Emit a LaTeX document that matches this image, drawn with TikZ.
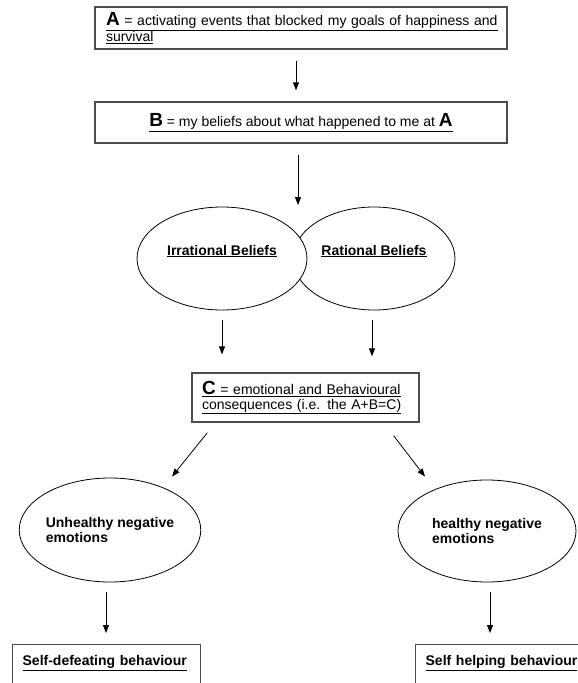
\documentclass[tikz,border=0pt]{standalone}
\usepackage{fontspec}
\setmainfont{Liberation Sans}
\usetikzlibrary{arrows.meta,shapes.geometric}
\newcommand{\bigletter}[1]{{\fontsize{19}{19}\selectfont\bfseries #1}}

\begin{document}
\begin{tikzpicture}[x=1pt,y=-1pt,
    font=\fontsize{14}{15}\selectfont,
    box/.style={draw=black!70, line width=1.3pt, inner ysep=0pt},
    belief/.style={ellipse, draw, fill=white, line width=0.8pt, inner sep=0pt},
    arrow/.style={-{Triangle[length=8pt,width=6pt]}, line width=0.8pt}]
  \clip (0,0) rectangle (578,683);

  % A and B boxes
  \node[box, minimum width=412, minimum height=42, text width=390, inner xsep=11pt, align=left] (A) at (301,28)
    {\underline{\bigletter{A} = activating events that blocked my goals of happiness and}\\\underline{survival}};
  \node[box, minimum width=412, minimum height=41] (B) at (301,122.5)
    {\underline{\bigletter{B} = my beliefs about what happened to me at \bigletter{A}}};

  % belief ellipses, rational one behind
  \node[belief, minimum width=162, minimum height=103, text depth=17pt] (Rat) at (374,258.5) {\textbf{\underline{Rational Beliefs}}};
  \node[belief, minimum width=170, minimum height=103, text depth=17pt] (Irr) at (222,258.5) {\textbf{\underline{Irrational Beliefs}}};

  % C box
  \node[box, minimum width=227, minimum height=49, text width=207, inner xsep=10pt, align=left] (C) at (305.5,397.5)
    {\underline{\bigletter{C} = emotional and Behavioural}\\\underline{consequences (i.e. the A+B=C)}};

  % emotions
  \node[belief, minimum width=178, minimum height=104, align=left, font=\fontsize{14}{13}\selectfont\bfseries] (Unh) at (110,530) {Unhealthy negative\\emotions};
  \node[belief, minimum width=178, minimum height=102, align=left, font=\fontsize{14}{13}\selectfont\bfseries] (Hel) at (487,531) {healthy negative\\emotions};

  % behaviour boxes, cut off at the bottom
  \node[box, anchor=north west, minimum width=188, text width=168, inner xsep=10pt, align=left, text height=21pt, text depth=45pt] (SD) at (12,644) {\textbf{\underline{Self-defeating behaviour}}};
  \node[box, anchor=north west, minimum width=200, text width=180, inner xsep=10pt, align=left, text height=21pt, text depth=45pt] (SH) at (415,644) {\textbf{\underline{Self helping behaviour}}};

  % Arrows
  \coordinate (split) at (298,207);
  \draw[arrow, shorten <=11pt, shorten >=11pt] ([xshift=-5]A.south) -- ([xshift=-5]B.north);
  \draw[arrow, shorten <=11pt, shorten >=2pt] ([xshift=-3]B.south) -- (split);
  \draw[arrow, shorten <=10pt, shorten >=18pt] (Irr.south) -- (Irr.south |- C.north);
  \draw[arrow, shorten <=10pt, shorten >=16pt] ([xshift=-2]Rat.south) -- ([xshift=-2]Rat.south |- C.north);
  \draw[arrow] ([shift={(16,10)}]C.south west) -- ([shift={(62,-1)}]Unh.north);
  \draw[arrow] ([shift={(-26,13)}]C.south east) -- ([shift={(-62,-3)}]Hel.north);
  \draw[arrow, shorten <=10pt, shorten >=11pt] ([xshift=-4]Unh.south) -- ([xshift=-4]Unh.south |- SD.north);
  \draw[arrow, shorten <=10pt, shorten >=11pt] ([xshift=3]Hel.south) -- ([xshift=3]Hel.south |- SH.north);
\end{tikzpicture}
\end{document}
